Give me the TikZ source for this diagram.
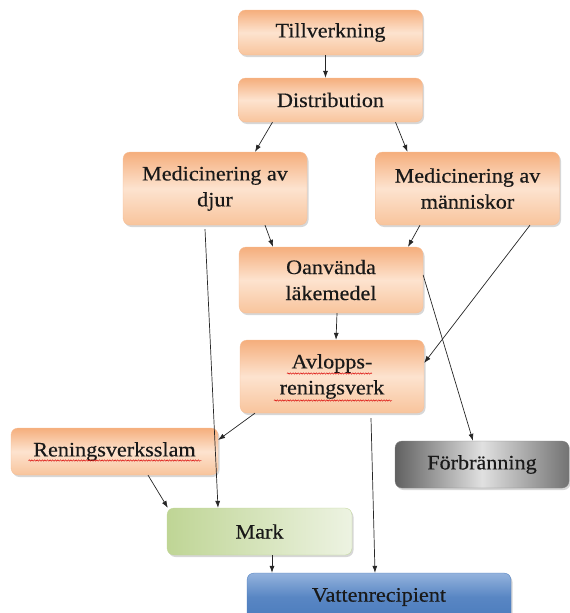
\documentclass[tikz,border=0pt]{standalone}
\usepackage{fontspec}
\setmainfont[FakeStretch=1.08, FakeBold=0.4]{Liberation Serif}
\usetikzlibrary{shadows,calc,arrows.meta,decorations.pathmorphing}
\definecolor{orA}{HTML}{F5AE7C}
\definecolor{orB}{HTML}{FDE3CF}
\definecolor{orC}{HTML}{F8C49C}
\definecolor{grA}{HTML}{BFD595}
\definecolor{grB}{HTML}{EDF3E2}
\definecolor{blA}{HTML}{94B3DD}
\definecolor{blB}{HTML}{4A7BBD}
\tikzset{
  box/.style={rounded corners=7pt, minimum width=184pt, inner sep=2pt, align=center,
    font=\fontsize{20.5}{26}\selectfont, text=black!90,
    drop shadow={shadow xshift=1.5pt, shadow yshift=-2pt, fill=black!35, opacity=.45}},
  obox/.style={box, top color=orA, bottom color=orC, middle color=orB, draw=orA!80, line width=0.3pt},
  gbox/.style={box, left color=grA, right color=grB, draw=grA, line width=0.3pt},
  graybox/.style={box, left color=black!62, right color=black!55, middle color=black!12, draw=black!50, line width=0.3pt},
  bbox/.style={box, top color=blA, bottom color=blB, middle color=blB!80!blA, draw=blB, line width=0.3pt},
  conn/.style={-{Latex[length=7pt,width=5pt]}, line width=0.7pt, black!85},
  wave/.style={red!85!black, line width=0.45pt, decorate, decoration={snake, amplitude=0.7pt, segment length=2.6pt}}
}
\begin{document}
\begin{tikzpicture}[x=1pt,y=-1pt]
\useasboundingbox (0,0) rectangle (570,613);
\node[obox, minimum height=45pt] (till) at (330.5,32.5) {Tillverkning};
\node[obox, minimum height=44pt] (dist) at (330.5,100) {Distribution};
\node[obox, minimum height=73pt] (medd) at (215,188.5) {Medicinering av\\djur};
\node[obox, minimum height=73pt] (medm) at (467.5,188.5) {Medicinering av\\människor};
\node[obox, minimum height=66pt] (oanv) at (331,280) {Oanvända\\läkemedel};
\node[obox, minimum height=73pt] (avl) at (332,376.5) {Avlopps-\\reningsverk};
\node[obox, minimum height=47pt, minimum width=207pt] (rensl) at (114.5,451.5) {Reningsverksslam};
\node[graybox, minimum height=47pt, minimum width=174pt] (forb) at (482,464.5) {Förbränning};
\node[gbox, minimum height=47pt, minimum width=185pt] (mark) at (259.5,531.5) {Mark};
\node[bbox, minimum height=48pt, minimum width=264pt] (vatt) at (379,597) {Vattenrecipient};

\draw[wave] ($(avl.center)+(-45,-3)$) -- ($(avl.center)+(40,-3)$);
\draw[wave] ($(avl.center)+(-58,24)$) -- ($(avl.center)+(60,24)$);
\draw[wave] ($(rensl.center)+(-86,9)$) -- ($(rensl.center)+(87,9)$);

\draw[conn] ([xshift=-5pt]till.south) -- ([xshift=-5pt]dist.north);
\draw[conn] ([xshift=-58pt]dist.south) -- ([xshift=40pt]medd.north);
\draw[conn] ([xshift=65pt]dist.south) -- ([xshift=-60pt]medm.north);
\draw[conn] ([xshift=50pt]medd.south) -- ([xshift=-58pt]oanv.north);
\draw[conn] ([xshift=-47.5pt]medm.south) -- ([xshift=77pt]oanv.north);
\draw[conn] ([xshift=-10pt,yshift=-4pt]medd.south) -- ([xshift=-41.5pt]mark.north);
\draw[conn] ([xshift=62.5pt]medm.south) -- ([yshift=13.5pt]avl.east);
\draw[conn] ([yshift=5pt]oanv.east) -- ([xshift=-9pt]forb.north);
\draw[conn] ([xshift=6pt]oanv.south) -- ([xshift=4pt]avl.north);
\draw[conn] ([xshift=-77pt]avl.south) -- ([yshift=11.5pt]rensl.east);
\draw[conn] ([xshift=39pt,yshift=-5pt]avl.south) -- ([xshift=-4pt]vatt.north);
\draw[conn] ([xshift=33.5pt]rensl.south) -- ([xshift=1pt]mark.north west);
\draw[conn] ([xshift=12.5pt]mark.south) -- ([xshift=-107pt]vatt.north);
\end{tikzpicture}
\end{document}
